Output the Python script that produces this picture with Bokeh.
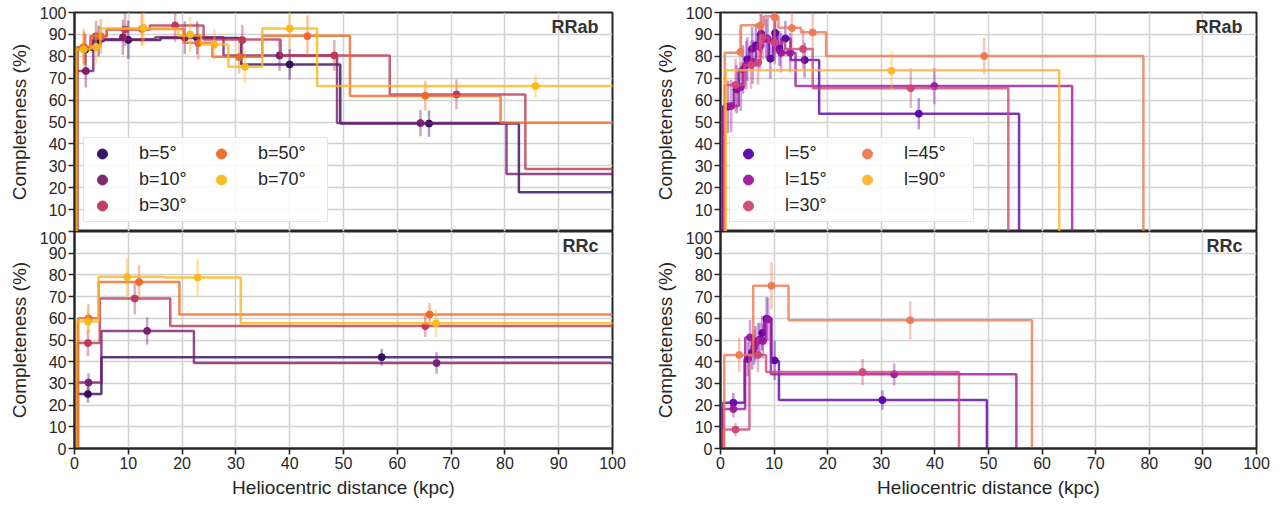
from bokeh.plotting import figure
from bokeh.models import Range1d, FixedTicker, Legend, LegendItem, Label
from bokeh.layouts import row, column
from bokeh.embed import file_html
from bokeh.resources import INLINE

FONT = "Liberation Sans"
X_TICKS = list(range(0, 101, 10))
Y_TICKS = list(range(0, 101, 10))

# ---------------- data: RRab, latitude b ----------------
b_labels = ["b=5°", "b=10°", "b=30°", "b=50°", "b=70°"]
b_colors = ["#320a5e", "#781c6d", "#bc3754", "#ed6925", "#fbb61a"]

ab_b5_edges = [0.5, 3.5, 5.5, 16.0, 31.0, 49.4, 82.6, 120.0]
ab_b5_vals = [83.0, 87.0, 87.5, 88.4, 76.3, 49.3, 17.9]
ab_b5_px = [2.0, 4.5, 10.0, 22.8, 40.0, 65.9]
ab_b5_py = [83.0, 87.0, 87.5, 88.4, 76.3, 49.3]
ab_b5_err = [7.0, 7.0, 8.7, 7.5, 7.0, 6.0]

ab_b10_edges = [0.3, 3.5, 15.0, 27.7, 48.8, 80.3, 120.0]
ab_b10_vals = [73.3, 87.8, 88.7, 80.4, 49.5, 26.2]
ab_b10_px = [2.1, 9.0, 20.5, 38.1, 64.3]
ab_b10_py = [73.3, 88.7, 88.5, 80.4, 49.5]
ab_b10_err = [7.6, 8.0, 7.5, 7.0, 6.0]

ab_b30_edges = [0.5, 3.0, 6.0, 14.0, 24.0, 38.3, 58.6, 83.8, 120.0]
ab_b30_vals = [84.0, 89.2, 92.2, 94.1, 87.7, 80.4, 62.6, 28.5]
ab_b30_px = [1.8, 4.0, 9.4, 18.7, 31.2, 48.3, 71.0]
ab_b30_py = [84.0, 89.2, 92.2, 94.1, 87.4, 80.4, 62.6]
ab_b30_err = [7.0, 7.0, 7.5, 7.6, 7.0, 7.0, 6.8]

ab_b50_edges = [0.5, 3.0, 6.0, 20.3, 25.6, 34.9, 51.2, 79.2, 120.0]
ab_b50_vals = [84.3, 89.2, 92.5, 86.2, 79.8, 89.4, 61.9, 49.7]
ab_b50_px = [1.7, 4.9, 12.5, 23.0, 30.6, 43.3, 65.2]
ab_b50_py = [84.3, 89.2, 92.5, 86.0, 79.6, 89.2, 62.0]
ab_b50_err = [8.0, 8.0, 7.5, 7.5, 7.5, 9.5, 6.8]

ab_b70_edges = [0.3, 3.0, 4.8, 19.3, 23.5, 28.6, 34.9, 45.1, 120.0]
ab_b70_vals = [83.1, 84.3, 92.7, 89.5, 85.4, 75.2, 92.7, 66.4]
ab_b70_px = [1.7, 4.0, 12.8, 21.5, 26.0, 31.7, 40.0, 85.7]
ab_b70_py = [83.1, 84.3, 93.0, 90.0, 85.4, 75.2, 92.7, 66.4]
ab_b70_err = [8.0, 8.0, 8.0, 8.0, 7.0, 7.5, 9.0, 5.3]

# ---------------- data: RRc, latitude b ----------------
c_b5_edges = [0.3, 5.0, 120.0]
c_b5_vals = [25.1, 42.1]
c_b5_px = [2.5, 57.1]
c_b5_py = [25.1, 42.1]
c_b5_err = [4.0, 3.8]

c_b10_edges = [0.3, 5.0, 22.2, 120.0]
c_b10_vals = [30.4, 54.2, 39.4]
c_b10_px = [2.6, 13.5, 67.3]
c_b10_py = [30.4, 54.2, 39.4]
c_b10_err = [4.3, 6.3, 5.0]

c_b30_edges = [0.5, 4.7, 17.8, 120.0]
c_b30_vals = [48.6, 69.1, 56.4]
c_b30_px = [2.5, 11.2, 65.2]
c_b30_py = [48.6, 69.1, 56.4]
c_b30_err = [6.0, 7.3, 5.0]

c_b50_edges = [0.7, 4.5, 19.5, 120.0]
c_b50_vals = [60.0, 76.7, 61.8]
c_b50_px = [2.6, 12.0, 66.0]
c_b50_py = [60.0, 76.7, 61.8]
c_b50_err = [6.6, 8.0, 5.3]

c_b70_edges = [0.3, 4.5, 16.7, 30.9, 120.0]
c_b70_vals = [58.5, 79.1, 78.8, 57.7]
c_b70_px = [2.5, 9.8, 22.9, 67.2]
c_b70_py = [58.5, 79.0, 78.8, 57.7]
c_b70_err = [5.7, 8.7, 8.3, 6.4]

# ---------------- data: RRab, longitude l ----------------
l_labels = ["l=5°", "l=15°", "l=30°", "l=45°", "l=90°"]
l_colors = ["#5c01a6", "#9c179e", "#cc4778", "#ed7953", "#fdb42f"]

ab_l5_edges = [0.5, 2.5, 3.4, 4.6, 5.4, 6.2, 7.0, 8.0, 9.0, 9.8, 10.6, 11.4, 13.1, 18.4, 55.7]
ab_l5_vals = [57.0, 64.9, 74.0, 78.6, 83.4, 85.0, 90.3, 88.1, 78.9, 90.7, 83.6, 88.1, 78.3, 53.8]
ab_l5_px = [1.4, 3.0, 4.2, 5.0, 5.9, 6.6, 7.6, 8.5, 9.3, 10.2, 11.0, 12.1, 15.7, 37.0]
ab_l5_py = [57.0, 64.9, 74.0, 78.6, 83.4, 85.0, 90.3, 88.1, 78.9, 90.7, 83.6, 88.1, 78.3, 53.8]
ab_l5_err = [12.0, 11.0, 11.0, 10.0, 10.0, 10.0, 9.0, 9.0, 9.0, 9.0, 8.0, 8.0, 8.0, 7.2]

ab_l15_edges = [0.5, 3.4, 4.2, 5.4, 6.6, 8.0, 9.4, 10.6, 12.0, 14.0, 65.6]
ab_l15_vals = [57.3, 66.0, 76.0, 77.5, 84.3, 88.0, 86.9, 81.6, 81.6, 66.4]
ab_l15_px = [2.0, 3.8, 4.8, 6.0, 7.3, 8.8, 10.1, 11.3, 13.0, 39.9]
ab_l15_py = [57.3, 66.0, 76.0, 77.5, 84.3, 88.0, 86.9, 81.6, 81.6, 66.4]
ab_l15_err = [12.0, 11.0, 11.0, 10.0, 10.0, 10.0, 9.0, 9.0, 9.0, 8.3]

ab_l30_edges = [0.8, 4.5, 6.5, 7.5, 9.0, 12.0, 17.2, 53.7]
ab_l30_vals = [66.9, 76.0, 77.0, 88.6, 86.3, 83.3, 65.4]
ab_l30_px = [2.8, 5.7, 7.0, 7.9, 10.1, 15.4, 35.5]
ab_l30_py = [66.9, 76.0, 77.0, 88.6, 86.3, 83.3, 65.4]
ab_l30_err = [12.0, 11.0, 10.0, 10.0, 10.0, 9.0, 9.0]

ab_l45_edges = [0.8, 3.8, 8.2, 10.8, 15.0, 19.7, 78.9]
ab_l45_vals = [81.6, 94.2, 98.3, 93.0, 91.0, 80.1]
ab_l45_px = [3.7, 7.4, 10.1, 13.3, 17.2, 49.2]
ab_l45_py = [82.0, 94.0, 97.8, 92.9, 90.9, 80.1]
ab_l45_err = [12.0, 11.0, 10.0, 10.0, 10.0, 8.3]

ab_l90_edges = [1.0, 63.2]
ab_l90_vals = [73.6]
ab_l90_px = [31.9]
ab_l90_py = [73.4]
ab_l90_err = [8.7]

# ---------------- data: RRc, longitude l ----------------
c_l5_edges = [0.5, 4.5, 5.5, 6.2, 7.0, 7.6, 8.2, 9.5, 10.9, 49.7]
c_l5_vals = [21.1, 41.3, 44.4, 48.5, 50.1, 53.2, 60.0, 40.3, 22.3]
c_l5_px = [2.4, 5.1, 5.9, 6.5, 7.3, 7.8, 8.6, 10.1, 30.2]
c_l5_py = [21.1, 41.3, 44.4, 48.5, 50.1, 53.2, 59.8, 40.6, 22.3]
c_l5_err = [4.5, 8.0, 8.0, 8.0, 8.0, 8.0, 10.0, 9.0, 4.5]

c_l15_edges = [0.5, 4.6, 6.0, 6.7, 7.5, 8.4, 9.4, 55.2]
c_l15_vals = [18.2, 51.2, 46.6, 49.7, 49.5, 59.5, 34.2]
c_l15_px = [2.4, 5.5, 6.3, 7.0, 7.9, 8.9, 32.4]
c_l15_py = [18.2, 51.2, 46.6, 49.7, 49.5, 59.5, 34.2]
c_l15_err = [4.0, 8.0, 8.0, 8.0, 8.0, 10.0, 5.0]

c_l30_edges = [0.5, 5.4, 8.5, 44.5]
c_l30_vals = [8.7, 43.1, 35.2]
c_l30_px = [2.8, 7.0, 26.5]
c_l30_py = [8.7, 43.1, 35.2]
c_l30_err = [3.0, 8.0, 6.0]

c_l45_edges = [0.7, 6.1, 12.7, 58.1]
c_l45_vals = [43.1, 75.0, 59.1]
c_l45_px = [3.5, 9.5, 35.4]
c_l45_py = [43.1, 75.0, 59.1]
c_l45_err = [8.0, 11.0, 8.7]

ab_b_series = [
    (ab_b5_edges, ab_b5_vals, ab_b5_px, ab_b5_py, ab_b5_err),
    (ab_b10_edges, ab_b10_vals, ab_b10_px, ab_b10_py, ab_b10_err),
    (ab_b30_edges, ab_b30_vals, ab_b30_px, ab_b30_py, ab_b30_err),
    (ab_b50_edges, ab_b50_vals, ab_b50_px, ab_b50_py, ab_b50_err),
    (ab_b70_edges, ab_b70_vals, ab_b70_px, ab_b70_py, ab_b70_err),
]
c_b_series = [
    (c_b5_edges, c_b5_vals, c_b5_px, c_b5_py, c_b5_err),
    (c_b10_edges, c_b10_vals, c_b10_px, c_b10_py, c_b10_err),
    (c_b30_edges, c_b30_vals, c_b30_px, c_b30_py, c_b30_err),
    (c_b50_edges, c_b50_vals, c_b50_px, c_b50_py, c_b50_err),
    (c_b70_edges, c_b70_vals, c_b70_px, c_b70_py, c_b70_err),
]
ab_l_series = [
    (ab_l5_edges, ab_l5_vals, ab_l5_px, ab_l5_py, ab_l5_err),
    (ab_l15_edges, ab_l15_vals, ab_l15_px, ab_l15_py, ab_l15_err),
    (ab_l30_edges, ab_l30_vals, ab_l30_px, ab_l30_py, ab_l30_err),
    (ab_l45_edges, ab_l45_vals, ab_l45_px, ab_l45_py, ab_l45_err),
    (ab_l90_edges, ab_l90_vals, ab_l90_px, ab_l90_py, ab_l90_err),
]
c_l_series = [
    (c_l5_edges, c_l5_vals, c_l5_px, c_l5_py, c_l5_err),
    (c_l15_edges, c_l15_vals, c_l15_px, c_l15_py, c_l15_err),
    (c_l30_edges, c_l30_vals, c_l30_px, c_l30_py, c_l30_err),
    (c_l45_edges, c_l45_vals, c_l45_px, c_l45_py, c_l45_err),
]

DARK = "#262626"
GRID = "#d2d2d2"


def step_xy(edges, vals):
    xs = [edges[0]]
    ys = [0.0]
    for i, v in enumerate(vals):
        xs += [edges[i], edges[i + 1]]
        ys += [v, v]
    xs.append(edges[-1])
    ys.append(0.0)
    return xs, ys


def make_fig(width, height, mbl, mbr, mbt, mbb, bottom):
    p = figure(width=width, height=height, x_range=Range1d(0, 100), y_range=Range1d(0, 100),
               output_backend="svg", toolbar_location=None,
               min_border_left=mbl, min_border_right=mbr, min_border_top=mbt, min_border_bottom=mbb,
               background_fill_color="white", border_fill_color="white")
    p.outline_line_color = DARK
    p.outline_line_width = 2
    p.xaxis.ticker = FixedTicker(ticks=X_TICKS)
    p.yaxis.ticker = FixedTicker(ticks=Y_TICKS)
    p.xgrid.ticker = FixedTicker(ticks=X_TICKS)
    p.ygrid.ticker = FixedTicker(ticks=Y_TICKS)
    p.xgrid.grid_line_color = GRID
    p.ygrid.grid_line_color = GRID
    p.xgrid.grid_line_width = 1.6
    p.ygrid.grid_line_width = 1.6
    for ax in (p.xaxis[0], p.yaxis[0]):
        ax.axis_line_color = DARK
        ax.axis_line_width = 2
        ax.major_tick_line_color = DARK
        ax.major_tick_line_width = 1.6
        ax.major_tick_out = 6
        ax.major_tick_in = 0
        ax.minor_tick_line_color = None
        ax.major_label_text_font = FONT
        ax.major_label_text_font_size = "16px"
        ax.major_label_text_color = DARK
        ax.major_label_standoff = 2
        ax.axis_label_text_font = FONT
        ax.axis_label_text_font_size = "19px"
        ax.axis_label_text_font_style = "normal"
        ax.axis_label_text_color = DARK
        ax.axis_label_standoff = 7
    p.yaxis.axis_label = "Completeness (%)"
    if bottom:
        p.xaxis.axis_label = "Heliocentric distance (kpc)"
        p.xaxis.axis_label_standoff = 5
    else:
        p.xaxis.visible = False
        p.yaxis.major_label_overrides = {0: ""}
    return p


def draw(p, series, colors):
    rends = []
    for (edges, vals, px, py, err), col in zip(series, colors):
        xs, ys = step_xy(edges, vals)
        p.line(xs, ys, line_color=col, line_width=2.5, line_alpha=0.8)
        p.segment(x0=px, y0=[y - e for y, e in zip(py, err)], x1=px, y1=[y + e for y, e in zip(py, err)],
                  line_color=col, line_width=2.5, line_alpha=0.4)
        r = p.scatter(px, py, size=7, fill_color=col, line_color=col, alpha=0.95)
        rends.append(r)
    return rends


def add_legend(p, rends, labels):
    items = [LegendItem(label=lab, renderers=[r]) for lab, r in zip(labels, rends)]
    lg = Legend(items=items, ncols=2, location=(9, 9),
                label_text_font=FONT, label_text_font_size="18px", label_text_color=DARK,
                glyph_height=25, glyph_width=30, label_height=25, label_standoff=22,
                label_width=66, spacing=1, padding=3, margin=0,
                border_line_color="#cccccc", border_line_width=1.5,
                background_fill_color="white", background_fill_alpha=0.85)
    p.add_layout(lg)


def add_tag(p, text):
    p.add_layout(Label(x=97.4, y=93.3, text=text, text_align="right", text_baseline="middle",
                       text_font=FONT, text_font_size="18px", text_font_style="bold",
                       text_color="#333333"))


LW, RW = 650, 626
TOP_H, BOT_H = 231, 269

p1 = make_fig(LW, TOP_H, 74, 38, 12, 0, False)
r1 = draw(p1, ab_b_series, b_colors)
add_legend(p1, r1, b_labels)
add_tag(p1, "RRab")

p2 = make_fig(LW, BOT_H, 74, 38, 0, 50, True)
draw(p2, c_b_series, b_colors)
add_tag(p2, "RRc")

p3 = make_fig(RW, TOP_H, 70, 20, 12, 0, False)
r3 = draw(p3, ab_l_series, l_colors)
add_legend(p3, r3, l_labels)
add_tag(p3, "RRab")

p4 = make_fig(RW, BOT_H, 70, 20, 0, 50, True)
draw(p4, c_l_series, l_colors[:4])
add_tag(p4, "RRc")

layout = row(column(p1, p2), column(p3, p4))

open("out.html", "w").write(file_html(layout, INLINE))
